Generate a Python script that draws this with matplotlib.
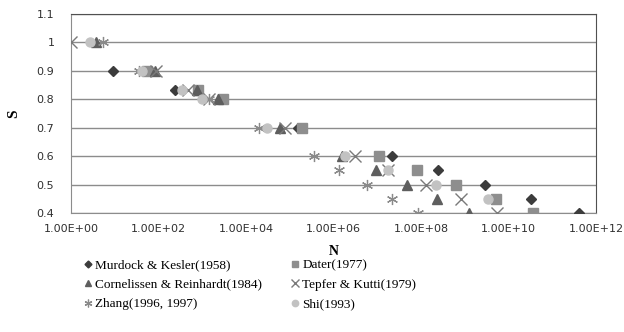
import matplotlib
matplotlib.use('Agg')
import matplotlib.pyplot as plt
import numpy as np

# fatigue data, S (stress ratio) vs N (cycles)
murdock_N = [9.1, 240, 1.55e5, 2.2e7, 2.5e8, 2.9e9, 3.2e10, 4.1e11]
murdock_S = [0.9, 0.833, 0.7, 0.6, 0.55, 0.5, 0.45, 0.4]

dater_N = [55, 800, 3000, 1.9e5, 1.1e7, 8.1e7, 6.3e8, 5.1e9, 3.6e10]
dater_S = [0.9, 0.833, 0.8, 0.7, 0.6, 0.55, 0.5, 0.45, 0.4]

corn_N = [3.7, 83, 760, 2300, 6.0e4, 1.6e6, 9.3e6, 4.7e7, 2.3e8, 1.26e9]
corn_S = [1.0, 0.9, 0.833, 0.8, 0.7, 0.6, 0.55, 0.5, 0.45, 0.4]

tepfer_N = [1, 89, 480, 1400, 7.8e4, 3.1e6, 1.8e7, 1.3e8, 8.1e8, 5.4e9]
tepfer_S = [1.0, 0.9, 0.833, 0.8, 0.7, 0.6, 0.55, 0.5, 0.45, 0.4]

zhang_N = [5.4, 35, 1400, 2.0e4, 3.5e5, 1.35e6, 5.8e6, 2.2e7, 8.5e7]
zhang_S = [1.0, 0.9, 0.8, 0.7, 0.6, 0.55, 0.5, 0.45, 0.4]

shi_N = [2.7, 42, 340, 980, 3.0e4, 1.8e6, 1.8e7, 2.2e8, 3.4e9]
shi_S = [1.0, 0.9, 0.833, 0.8, 0.7, 0.6, 0.55, 0.5, 0.45]

x_ticks = [1e0, 1e2, 1e4, 1e6, 1e8, 1e10, 1e12]
x_labels = ['1.00E+00', '1.00E+02', '1.00E+04', '1.00E+06', '1.00E+08', '1.00E+10', '1.00E+12']
y_ticks = [0.4, 0.5, 0.6, 0.7, 0.8, 0.9, 1.0, 1.1]
y_labels = ['0.4', '0.5', '0.6', '0.7', '0.8', '0.9', '1', '1.1']

fig = plt.figure(figsize=(6.24, 3.32), dpi=100)
ax = fig.add_axes([71/624, 1-213/332, 525/624, 199/332])

for y in y_ticks:
    ax.axhline(y, color='#8c8c8c', lw=1.0, zorder=1)

p_mk, = ax.plot(murdock_N, murdock_S, 'D', ms=5, color='#3c3c3c', ls='none', zorder=3)
p_da, = ax.plot(dater_N, dater_S, 's', ms=7, color='#8e8e8e', ls='none', zorder=3)
p_co, = ax.plot(corn_N, corn_S, '^', ms=7, color='#5e5e5e', ls='none', zorder=3)
p_te, = ax.plot(tepfer_N, tepfer_S, 'x', ms=8, mew=1.0, color='#7a7a7a', ls='none', zorder=3)
p_zh, = ax.plot(zhang_N, zhang_S, marker=(6, 2, 0), ms=8, mew=0.9, color='#8a8a8a', ls='none', zorder=3)
p_sh, = ax.plot(shi_N, shi_S, 'o', ms=6.5, color='#c2c2c2', ls='none', zorder=3)

ax.set_xscale('log')
ax.set_xlim(1e0, 1e12)
ax.set_ylim(0.4, 1.1)
ax.set_xticks(x_ticks)
ax.set_xticklabels(x_labels)
ax.xaxis.set_minor_locator(matplotlib.ticker.NullLocator())
ax.set_yticks(y_ticks)
ax.set_yticklabels(y_labels)
ax.tick_params(length=0, labelsize=8, labelcolor='#303030', pad=8)
ax.tick_params(axis='y', pad=12)

for s in ['left', 'bottom']:
    ax.spines[s].set_color('#8c8c8c')
for s in ['top', 'right']:
    ax.spines[s].set_color('#505050')

ax.set_xlabel('N', family='Liberation Serif', fontweight='bold', fontsize=10, labelpad=8)
ax.set_ylabel('S', family='Liberation Serif', fontweight='bold', fontsize=11, labelpad=12)

# legend is filled column by column
handles = [p_mk, p_co, p_zh, p_da, p_te, p_sh]
labels = ['Murdock & Kesler(1958)', 'Cornelissen & Reinhardt(1984)', 'Zhang(1996, 1997)',
          'Dater(1977)', 'Tepfer & Kutti(1979)', 'Shi(1993)']
fig.legend(handles, labels, loc='upper left', bbox_to_anchor=(84/624, 1-259/332), ncol=2,
           frameon=False, prop={'family': 'Liberation Serif', 'size': 9.5},
           handlelength=0.6, handletextpad=0.25, columnspacing=2.2, labelspacing=0.55,
           markerscale=0.7, borderaxespad=0, borderpad=0)

fig.savefig('out.png', dpi=100)
